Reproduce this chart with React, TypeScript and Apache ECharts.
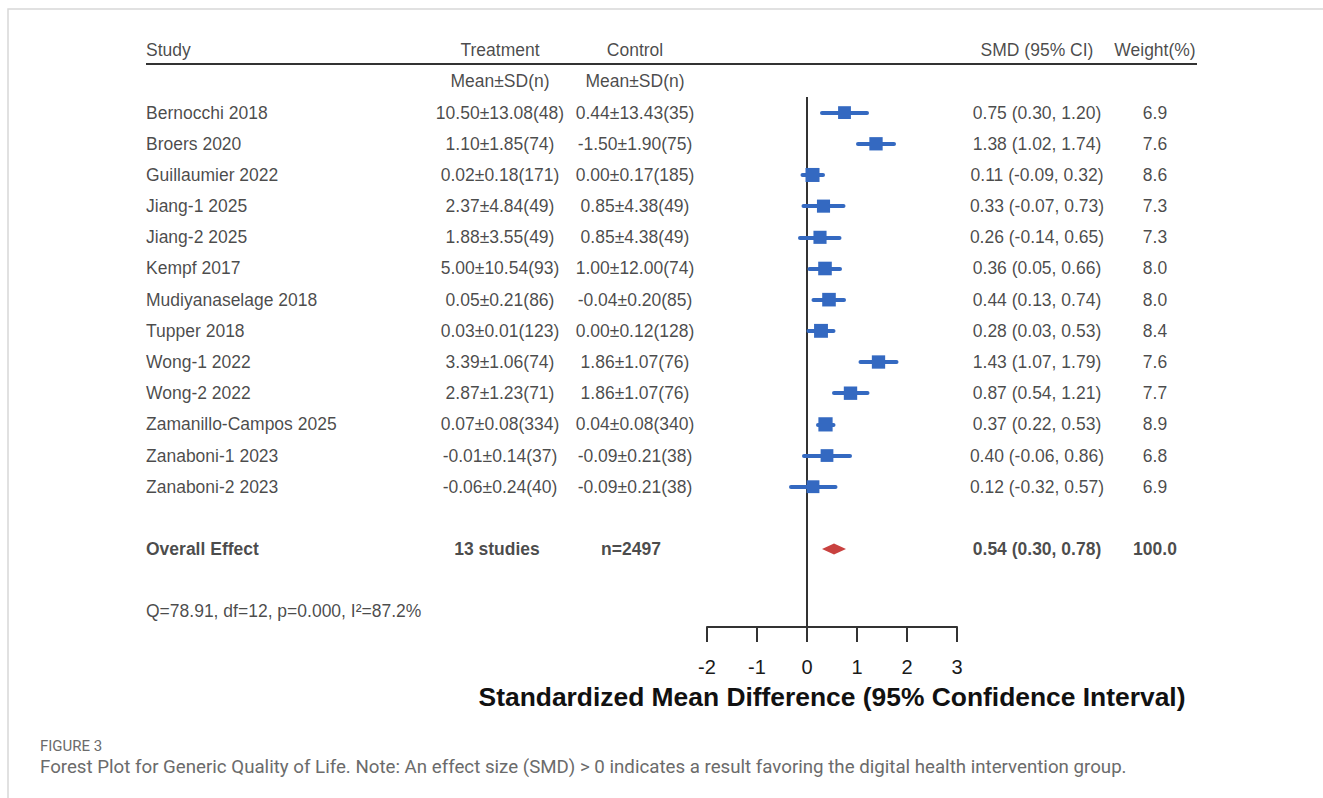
import React, { useEffect, useRef } from "react";
import * as echarts from "echarts";

const studies = [
  "Bernocchi 2018", "Broers 2020", "Guillaumier 2022", "Jiang-1 2025", "Jiang-2 2025",
  "Kempf 2017", "Mudiyanaselage 2018", "Tupper 2018", "Wong-1 2022", "Wong-2 2022",
  "Zamanillo-Campos 2025", "Zanaboni-1 2023", "Zanaboni-2 2023",
];
const treatment = [
  "10.50±13.08(48)", "1.10±1.85(74)", "0.02±0.18(171)", "2.37±4.84(49)", "1.88±3.55(49)",
  "5.00±10.54(93)", "0.05±0.21(86)", "0.03±0.01(123)", "3.39±1.06(74)", "2.87±1.23(71)",
  "0.07±0.08(334)", "-0.01±0.14(37)", "-0.06±0.24(40)",
];
const control = [
  "0.44±13.43(35)", "-1.50±1.90(75)", "0.00±0.17(185)", "0.85±4.38(49)", "0.85±4.38(49)",
  "1.00±12.00(74)", "-0.04±0.20(85)", "0.00±0.12(128)", "1.86±1.07(76)", "1.86±1.07(76)",
  "0.04±0.08(340)", "-0.09±0.21(38)", "-0.09±0.21(38)",
];
const smd = [0.75, 1.38, 0.11, 0.33, 0.26, 0.36, 0.44, 0.28, 1.43, 0.87, 0.37, 0.40, 0.12];
const lower = [0.30, 1.02, -0.09, -0.07, -0.14, 0.05, 0.13, 0.03, 1.07, 0.54, 0.22, -0.06, -0.32];
const upper = [1.20, 1.74, 0.32, 0.73, 0.65, 0.66, 0.74, 0.53, 1.79, 1.21, 0.53, 0.86, 0.57];
const weight = [6.9, 7.6, 8.6, 7.3, 7.3, 8.0, 8.0, 8.4, 7.6, 7.7, 8.9, 6.8, 6.9];

const overall = { smd: 0.54, lower: 0.30, upper: 0.78, studies: "13 studies", n: "n=2497", weight: 100.0 };
const heterogeneity = "Q=78.91, df=12, p=0.000, I²=87.2%";
const xTicks = [-2, -1, 0, 1, 2, 3];
const headers = { study: "Study", treatment: "Treatment", control: "Control", smd: "SMD (95% CI)", weight: "Weight(%)", sub: "Mean±SD(n)" };
const axisTitle = "Standardized Mean Difference (95% Confidence Interval)";
const figLabel = "FIGURE 3";
const caption = "Forest Plot for Generic Quality of Life. Note: An effect size (SMD) > 0 indicates a result favoring the digital health intervention group.";

// layout
const FONT = "'Liberation Sans', Arial, Helvetica, sans-serif";
const TXT = "#1a1a1a";
const BLUE = "#3469C1";
const RED = "#C9413F";
const COL = { study: 146, trt: 500, ctl: 635, smd: 1037, wt: 1155 };
const ROW_HEADER = -2;
const ROW_SUB = -1;
const ROW_OVERALL = 14;
const ROW_HET = 16;

const fmt = (v: number) => v.toFixed(2);

function textSeries(name: string, rows: [number, number, string][], align: string, bold = false) {
  return {
    name,
    type: "scatter",
    xAxisIndex: 1,
    yAxisIndex: 1,
    symbolSize: 0,
    silent: true,
    data: rows,
    label: {
      show: true,
      position: "inside",
      align,
      verticalAlign: "middle",
      formatter: (p: any) => p.value[2],
      fontFamily: FONT,
      fontSize: 17.5,
      fontWeight: bold ? "bold" : "normal",
      color: TXT,
    },
  };
}

export default function App() {
  const ref = useRef<HTMLDivElement>(null);
  useEffect(() => {
    if (!ref.current) return;
    const chart = echarts.init(ref.current, undefined, { renderer: "svg" });
    const idx = studies.map((_, i) => i);

    const leftCol: [number, number, string][] = [
      [COL.study, ROW_HEADER, headers.study],
      ...studies.map((s, i) => [COL.study, i, s] as [number, number, string]),
      [COL.study, ROW_HET, heterogeneity],
    ];
    const centerCol: [number, number, string][] = [
      [COL.trt, ROW_HEADER, headers.treatment],
      [COL.ctl, ROW_HEADER, headers.control],
      [COL.smd, ROW_HEADER, headers.smd],
      [COL.wt, ROW_HEADER, headers.weight],
      [COL.trt, ROW_SUB, headers.sub],
      [COL.ctl, ROW_SUB, headers.sub],
      ...idx.map((i) => [COL.trt, i, treatment[i]] as [number, number, string]),
      ...idx.map((i) => [COL.ctl, i, control[i]] as [number, number, string]),
      ...idx.map((i) => [COL.smd, i, `${fmt(smd[i])} (${fmt(lower[i])}, ${fmt(upper[i])})`] as [number, number, string]),
      ...idx.map((i) => [COL.wt, i, weight[i].toFixed(1)] as [number, number, string]),
    ];
    const boldLeft: [number, number, string][] = [[COL.study, ROW_OVERALL, "Overall Effect"]];
    const boldCenter: [number, number, string][] = [
      [COL.trt - 3, ROW_OVERALL, overall.studies],
      [COL.ctl - 4, ROW_OVERALL, overall.n],
      [COL.smd, ROW_OVERALL, `${fmt(overall.smd)} (${fmt(overall.lower)}, ${fmt(overall.upper)})`],
      [COL.wt, ROW_OVERALL, overall.weight.toFixed(1)],
    ];

    const yAxisBase = { type: "value", min: -3.5, max: 16.5, inverse: true, show: false };

    chart.setOption({
      animation: false,
      textStyle: { fontFamily: FONT },
      grid: [
        { left: 707, width: 250, top: 3.5, bottom: 171 },
        { left: 0, width: 1323, top: 3.5, bottom: 171 },
      ],
      xAxis: [
        {
          type: "value",
          gridIndex: 0,
          min: -2,
          max: 3,
          interval: 1,
          position: "bottom",
          splitLine: { show: false },
          axisLine: { show: true, onZero: false, lineStyle: { color: "#333", width: 2 } },
          axisTick: { show: true, inside: false, length: 15, lineStyle: { color: "#333", width: 2 } },
          axisLabel: {
            fontSize: 20,
            color: "#1a1a1a",
            margin: 30,
            fontFamily: FONT,
            formatter: (v: number) => (xTicks.includes(v) ? String(v) : ""),
          },
          name: axisTitle,
          nameLocation: "middle",
          nameGap: 57,
          nameTextStyle: { fontSize: 26.4, fontWeight: "bold", color: "#111", fontFamily: FONT },
        },
        { type: "value", gridIndex: 1, min: 0, max: 1323, show: false },
      ],
      yAxis: [
        { ...yAxisBase, gridIndex: 0 },
        { ...yAxisBase, gridIndex: 1 },
      ],
      graphic: [
        {
          type: "rect",
          shape: { x: 8, y: 9, width: 1340, height: 820 },
          style: { fill: "none", stroke: "#d8d8d8", lineWidth: 1.5 },
          silent: true,
        },
        {
          type: "line",
          shape: { x1: 146, y1: 64, x2: 1197, y2: 64 },
          style: { stroke: "#333", lineWidth: 2 },
          silent: true,
        },
        {
          type: "text",
          x: 40,
          y: 746,
          style: { text: figLabel, fontSize: 15, fill: "#6b6b6b", fontFamily: "Roboto, sans-serif", verticalAlign: "middle" },
        },
        {
          type: "text",
          x: 40,
          y: 767,
          style: { text: caption, fontSize: 18.7, fill: "#6b6b6b", fontFamily: "Roboto, sans-serif", verticalAlign: "middle" },
        },
      ],
      series: [
        {
          name: "zero",
          type: "line",
          xAxisIndex: 0,
          yAxisIndex: 0,
          symbol: "none",
          silent: true,
          lineStyle: { color: "#333", width: 2 },
          data: [[0, -0.5], [0, 16.5]],
          z: 1,
        },
        {
          name: "ci",
          type: "lines",
          coordinateSystem: "cartesian2d",
          xAxisIndex: 0,
          yAxisIndex: 0,
          silent: true,
          lineStyle: { color: BLUE, width: 4, opacity: 1, cap: "round" },
          data: idx.map((i) => ({ coords: [[lower[i], i], [upper[i], i]] })),
          z: 2,
        },
        {
          name: "smd",
          type: "scatter",
          xAxisIndex: 0,
          yAxisIndex: 0,
          symbol: "rect",
          silent: true,
          symbolSize: (v: any) => 8 + v[2] * 0.7,
          itemStyle: { color: BLUE, opacity: 1 },
          data: idx.map((i) => [smd[i], i, weight[i]]),
          z: 3,
        },
        {
          name: "overall",
          type: "custom",
          xAxisIndex: 0,
          yAxisIndex: 0,
          silent: true,
          data: [[overall.smd, ROW_OVERALL, overall.lower, overall.upper]],
          renderItem: (params: any, api: any) => {
            const c = api.coord([api.value(0), api.value(1)]);
            const l = api.coord([api.value(2), api.value(1)]);
            const r = api.coord([api.value(3), api.value(1)]);
            const h = 5.5;
            return {
              type: "polygon",
              shape: { points: [[l[0], c[1]], [c[0], c[1] - h], [r[0], c[1]], [c[0], c[1] + h]] },
              style: { fill: RED },
            };
          },
          z: 3,
        },
        textSeries("textLeft", leftCol, "left"),
        textSeries("textCenter", centerCol, "center"),
        textSeries("boldLeft", boldLeft, "left", true),
        textSeries("boldCenter", boldCenter, "center", true),
      ],
    });
    return () => chart.dispose();
  }, []);
  return (
    <div
      ref={ref}
      style={{ position: "absolute", left: 0, top: 0, width: 1323, height: 798, background: "#fff" }}
    />
  );
}
